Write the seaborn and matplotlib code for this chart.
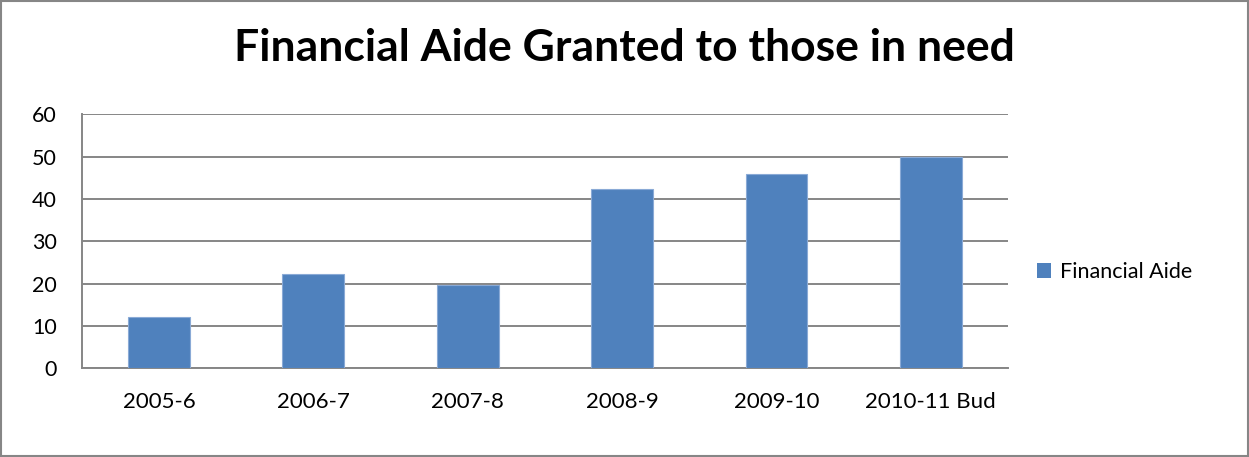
import matplotlib
matplotlib.use("Agg")
import matplotlib.pyplot as plt
import seaborn as sns
import pandas as pd
from matplotlib.patches import Rectangle, Patch

categories = ["2005-6", "2006-7", "2007-8", "2008-9", "2009-10", "2010-11 Bud"]
values = [12.2, 22.2, 19.8, 42.4, 45.9, 49.9]
series_name = "Financial Aide"
title = "Financial Aide Granted to those in need"
yticks = [0, 10, 20, 30, 40, 50, 60]

sns.set_theme(style="white")
plt.rcParams['font.family'] = ['Lato', 'DejaVu Sans']
plt.rcParams['text.color'] = 'black'
plt.rcParams['xtick.color'] = 'black'
plt.rcParams['ytick.color'] = 'black'

df = pd.DataFrame({"cat": categories, "val": values})

fig = plt.figure(figsize=(12.49, 4.57), dpi=100)
ax = fig.add_axes([0.0654, 0.194, 0.7417, 0.5556])
sns.barplot(data=df, x="cat", y="val", color="#4F81BD", width=0.4, ax=ax,
            saturation=1, zorder=3, edgecolor="#8AAAD6", linewidth=0.8)
ax.set_xlim(-0.5, len(categories) - 0.5)
ax.set_ylim(0, 60)
ax.set_yticks(yticks)
ax.set_yticklabels([str(t) for t in yticks], fontsize=15.5)
ax.set_xlabel("")
ax.set_ylabel("")
ax.set_xticks(range(len(categories)))
ax.set_xticklabels(categories, fontsize=16)
ax.tick_params(axis="x", which="major", length=0, pad=17, labelcolor="black")
ax.set_xticks([i - 0.5 for i in range(len(categories) + 1)], minor=True)
ax.tick_params(axis="x", which="minor", length=8, width=1.3, color="#868686", direction="out")
ax.tick_params(axis="y", length=8, width=1.3, color="#868686", direction="out", pad=10,
               labelcolor="black")
ax.grid(axis="y", color="#868686", linewidth=1.4, zorder=0)
for s in ["top", "right"]:
    ax.spines[s].set_visible(False)
for s in ["left", "bottom"]:
    ax.spines[s].set_color("#868686")
    ax.spines[s].set_linewidth(1.4)

fig.text(0.5, 0.895, title, ha="center", va="center", fontsize=32, fontweight="bold",
         color="black")

handle = Patch(facecolor="#4F81BD", edgecolor="none")
fig.legend([handle], [series_name], loc="center left", bbox_to_anchor=(0.815, 0.405),
           frameon=False, fontsize=15.5, handlelength=0.65, handleheight=0.65,
           handletextpad=0.4, labelcolor="black")

fig.patches.append(Rectangle((0.001, 0.002), 0.998, 0.996, transform=fig.transFigure,
                             fill=False, edgecolor="#868686", linewidth=1.5))

fig.savefig("out.png", dpi=100)
